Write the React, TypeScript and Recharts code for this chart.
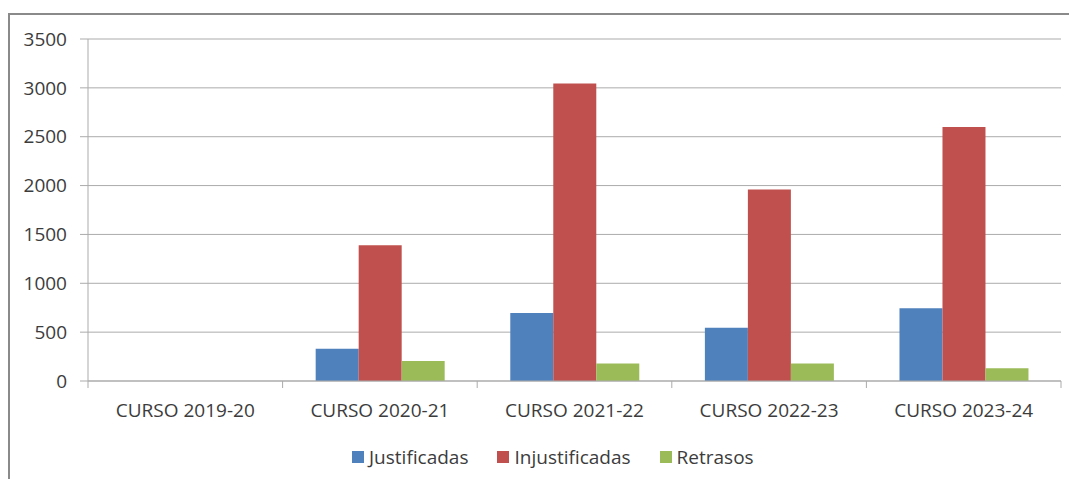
import React from "react";
import {
  BarChart,
  Bar,
  XAxis,
  YAxis,
  CartesianGrid,
  Legend,
} from "recharts";

const cursos = [
  "CURSO 2019-20",
  "CURSO 2020-21",
  "CURSO 2021-22",
  "CURSO 2022-23",
  "CURSO 2023-24",
];
const justificadas = [0, 330, 695, 545, 745];
const injustificadas = [0, 1390, 3045, 1960, 2600];
const retrasos = [0, 205, 180, 180, 130];
const yTicks = [0, 500, 1000, 1500, 2000, 2500, 3000, 3500];

const series = [
  { key: "justificadas", name: "Justificadas", color: "#4f81bd" },
  { key: "injustificadas", name: "Injustificadas", color: "#c0504d" },
  { key: "retrasos", name: "Retrasos", color: "#9bbb59" },
];

const data = cursos.map((curso, i) => ({
  curso,
  justificadas: justificadas[i],
  injustificadas: injustificadas[i],
  retrasos: retrasos[i],
}));

const FONT = "'Open Sans', sans-serif";
const TEXT = "#3c3c3c";
const GRID = "#ababab";

// chart geometry
const CHART_W = 1059;
const CHART_H = 464;
const MARGIN = { top: 24, right: 8, left: 0, bottom: 38 };
const Y_AXIS_W = 78;
const BAND = (CHART_W - MARGIN.right - MARGIN.left - Y_AXIS_W) / cursos.length;

// category label plus boundary tick marks
const CategoryTick = (props: any) => {
  const { x, y, payload, index } = props;
  const left = x - BAND / 2;
  const right = x + BAND / 2;
  return (
    <g>
      <line x1={left} y1={y} x2={left} y2={y + 7} stroke={GRID} />
      {index === cursos.length - 1 && (
        <line x1={right} y1={y} x2={right} y2={y + 7} stroke={GRID} />
      )}
      <text
        x={x}
        y={y + 36}
        textAnchor="middle"
        fill={TEXT}
        fontSize={19}
        fontFamily={FONT}
      >
        {payload.value}
      </text>
    </g>
  );
};

const LegendContent = () => (
  <div style={{ display: "flex", alignItems: "center", fontFamily: FONT }}>
    {series.map((s) => (
      <div
        key={s.key}
        style={{ display: "flex", alignItems: "center", marginRight: 29 }}
      >
        <span
          style={{
            width: 12,
            height: 12,
            background: s.color,
            display: "inline-block",
            marginRight: 5,
          }}
        />
        <span style={{ fontSize: 19, color: TEXT, lineHeight: "26px" }}>
          {s.name}
        </span>
      </div>
    ))}
  </div>
);

export default function App() {
  return (
    <div
      style={{
        position: "fixed",
        top: 13,
        left: 8,
        width: 1061,
        height: 466,
        borderTop: "2px solid #8a8a8a",
        borderLeft: "2px solid #8a8a8a",
        background: "#fff",
        boxSizing: "border-box",
        fontFamily: FONT,
      }}
    >
      <BarChart
        width={CHART_W}
        height={CHART_H}
        data={data}
        margin={MARGIN}
        barCategoryGap="17%"
        barGap={0}
      >
        <CartesianGrid vertical={false} stroke={GRID} />
        <XAxis
          dataKey="curso"
          height={60}
          axisLine={{ stroke: GRID }}
          tickLine={false}
          tickSize={0}
          tickMargin={0}
          tick={<CategoryTick />}
          interval={0}
        />
        <YAxis
          width={Y_AXIS_W}
          domain={[0, 3500]}
          ticks={yTicks}
          axisLine={{ stroke: GRID }}
          tickLine={{ stroke: GRID }}
          tickSize={8}
          tickMargin={13}
          tick={{ fill: TEXT, fontSize: 19, fontFamily: FONT }}
        />
        <Legend
          verticalAlign="middle"
          align="center"
          layout="horizontal"
          content={<LegendContent />}
          wrapperStyle={{ top: 429, left: 342, width: 460, height: 26 }}
        />
        {series.map((s) => (
          <Bar
            key={s.key}
            dataKey={s.key}
            name={s.name}
            fill={s.color}
            isAnimationActive={false}
          />
        ))}
      </BarChart>
    </div>
  );
}
